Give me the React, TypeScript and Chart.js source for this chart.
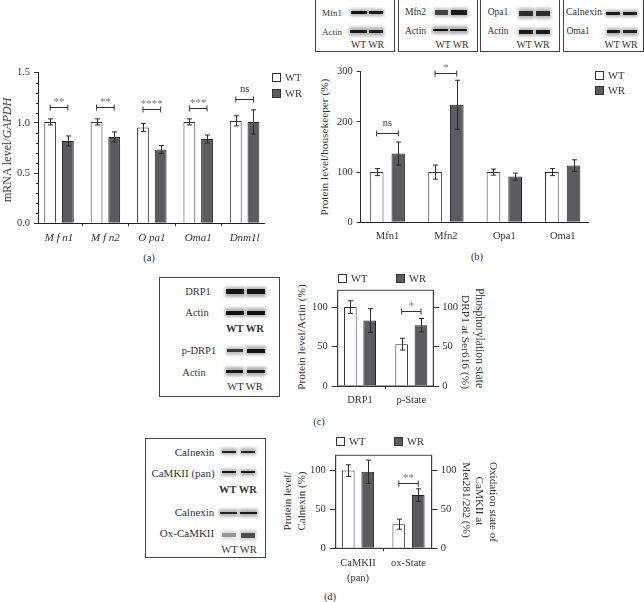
import React, { useEffect, useRef } from "react";
import { Chart, registerables } from "chart.js";

Chart.register(...registerables);

const FONT = '"Liberation Serif", serif';
const INK = "#333";
const BAR_DARK = "#5b5b60";

// ---- panel (a)
const aCategories = ["M f n1", "M f n2", "O pa1", "Oma1", "Dnm1l"];
const aWT = [1.01, 1.01, 0.955, 1.01, 1.02];
const aWR = [0.82, 0.86, 0.735, 0.84, 1.01];
const aWTerr = [0.03, 0.03, 0.04, 0.03, 0.05];
const aWRerr = [0.05, 0.05, 0.04, 0.04, 0.12];
const aBracketGroups = [0, 1, 2, 3, 4];
const aBracketValues = [1.158, 1.158, 1.138, 1.145, 1.24];
const aBracketLabels = ["**", "**", "****", "***", "ns"];
const aYMinor = [0.1, 0.2, 0.3, 0.4, 0.6, 0.7, 0.8, 0.9, 1.1, 1.2, 1.3, 1.4];

// ---- panel (b)
const bCategories = ["Mfn1", "Mfn2", "Opa1", "Oma1"];
const bWT = [100, 100, 100, 100];
const bWR = [137, 234, 91, 113];
const bWTerr = [7, 14, 6, 7];
const bWRerr = [23, 49, 7, 11.5];
const bBracketGroups = [0, 1];
const bBracketValues = [178.5, 296.5];
const bBracketLabels = ["ns", "*"];

// ---- panel (c)
const cCategories = ["DRP1", "p-State"];
const cWT = [100, 53];
const cWR = [83, 77];
const cWTerr = [8, 7.5];
const cWRerr = [15, 8.5];
const cBracketGroups = [1];
const cBracketValues = [95.4];
const cBracketLabels = ["*"];

// ---- panel (d)
const dCategories = [["CaMKII", "(pan)"], ["ox-State"]];
const dWT = [100, 31];
const dWR = [98.5, 68.5];
const dWTerr = [7.5, 6.5];
const dWRerr = [15, 8];
const dBracketGroups = [1];
const dBracketValues = [84];
const dBracketLabels = ["**"];

const annotPlugin = {
  id: "annot",
  afterDatasetsDraw(chart: any) {
    const o = chart.options.plugins.annot;
    if (!o) return;
    const { ctx, chartArea } = chart;
    const x0 = chart.getDatasetMeta(0).data;
    const x1 = chart.getDatasetMeta(1).data;
    const y = chart.scales.y;
    ctx.save();
    ctx.lineCap = "butt";
    ctx.strokeStyle = "#2a2a2a";
    ctx.lineWidth = 1;
    if (o.frame) {
      ctx.strokeStyle = "#444";
      ctx.strokeRect(chartArea.left, chartArea.top, chartArea.right - chartArea.left, chartArea.bottom - chartArea.top);
      ctx.strokeStyle = "#2a2a2a";
    }
    if (o.minor) {
      ctx.beginPath();
      o.minor.forEach((v: number) => {
        const py = Math.round(y.getPixelForValue(v)) + 0.5;
        ctx.moveTo(chartArea.left - 2, py);
        ctx.lineTo(chartArea.left, py);
      });
      ctx.stroke();
    }
    const drawErr = (els: any[], vals: number[], errs: number[]) => {
      els.forEach((el: any, i: number) => {
        const px = Math.round(el.x) + 0.5;
        const t = y.getPixelForValue(vals[i] + errs[i]);
        const b = y.getPixelForValue(vals[i] - errs[i]);
        ctx.beginPath();
        ctx.moveTo(px, t);
        ctx.lineTo(px, b);
        ctx.moveTo(px - o.cap, t);
        ctx.lineTo(px + o.cap, t);
        ctx.moveTo(px - o.cap, b);
        ctx.lineTo(px + o.cap, b);
        ctx.stroke();
      });
    };
    drawErr(x0, o.wt, o.wtErr);
    drawErr(x1, o.wr, o.wrErr);
    o.groups.forEach((g: number, i: number) => {
      const l = x0[g].x;
      const r = x1[g].x;
      const py = Math.round(y.getPixelForValue(o.bracket[i])) + 0.5;
      ctx.strokeStyle = "#333";
      ctx.beginPath();
      ctx.moveTo(l, py);
      ctx.lineTo(r, py);
      ctx.moveTo(l, py - 3);
      ctx.lineTo(l, py + 3);
      ctx.moveTo(r, py - 3);
      ctx.lineTo(r, py + 3);
      ctx.stroke();
      const label = o.labels[i];
      const isNs = label === "ns";
      ctx.fillStyle = isNs ? "#333" : "#777";
      ctx.font = `${isNs ? 10.5 : 11}px ${FONT}`;
      ctx.textAlign = "center";
      ctx.textBaseline = "alphabetic";
      ctx.fillText(label, (l + r) / 2, py - (isNs ? 8 : 3));
    });
    ctx.restore();
  },
};

interface PanelSpec {
  cats: any[];
  wt: number[];
  wr: number[];
  wtErr: number[];
  wrErr: number[];
  groups: number[];
  bracket: number[];
  labels: string[];
  box: number[]; // canvas left, top, width, height
  plot: number[]; // plot left, top, right, bottom
  xRange: number[];
  yMax: number;
  yStep: number;
  yDecimals: number;
  catPct: number;
  barPct: number;
  cap: number;
  xTickLen: number;
  xPad: number;
  xFontSize: number;
  xLineHeight?: number;
  yFontSize: number;
  xItalic?: boolean;
  rightAxis?: boolean;
  frame?: boolean;
  minor?: number[];
}

function buildChart(canvas: HTMLCanvasElement, s: PanelSpec) {
  const [cl, ct, cw, ch] = s.box;
  const [pl, pt, pr, pb] = s.plot;
  const font = { family: FONT, size: s.yFontSize };
  const scales: any = {
    x: {
      type: "linear",
      min: s.xRange[0],
      max: s.xRange[1],
      offset: false,
      grid: {
        drawOnChartArea: false,
        drawTicks: s.xTickLen > 0,
        tickLength: s.xTickLen,
        color: INK,
      },
      border: { display: true, color: "#222" },
      afterFit: (a: any) => {
        a.height = ct + ch - pb;
      },
      ticks: {
        stepSize: 1,
        includeBounds: false,
        autoSkip: false,
        maxRotation: 0,
        minRotation: 0,
        padding: s.xPad,
        color: INK,
        font: {
          family: FONT,
          size: s.xFontSize,
          lineHeight: s.xLineHeight ?? 1.2,
          style: s.xItalic ? "italic" : "normal",
        },
        callback: (v: any) => (Number.isInteger(v) ? s.cats[v] : ""),
      },
    },
    y: {
      type: "linear",
      min: 0,
      max: s.yMax,
      grid: { drawOnChartArea: false, tickLength: 4, color: INK },
      border: { display: true, color: "#222" },
      afterFit: (a: any) => {
        a.width = pl - cl;
      },
      ticks: {
        stepSize: s.yStep,
        includeBounds: false,
        autoSkip: false,
        padding: 4,
        color: INK,
        font,
        callback: (v: any) => Number(v).toFixed(s.yDecimals),
      },
    },
  };
  if (s.rightAxis) {
    scales.y1 = {
      type: "linear",
      position: "right",
      min: 0,
      max: s.yMax,
      grid: { drawOnChartArea: false, tickLength: 6, color: INK },
      border: { display: true, color: "#222" },
      afterFit: (a: any) => {
        a.width = cl + cw - pr;
      },
      ticks: { stepSize: s.yStep, includeBounds: false, padding: 3, color: INK, font },
    };
    scales.y.grid.tickLength = 6;
  }
  const dataset = (label: string, vals: number[], bg: string, bc: string) => ({
    label,
    data: vals.map((v, i) => ({ x: i, y: v })),
    backgroundColor: bg,
    borderColor: bc,
    borderWidth: 1,
    borderSkipped: "bottom",
    categoryPercentage: s.catPct,
    barPercentage: s.barPct,
  });
  return new Chart(canvas, {
    type: "bar",
    data: {
      datasets: [dataset("WT", s.wt, "#ffffff", "#333"), dataset("WR", s.wr, BAR_DARK, "#222")],
    },
    options: {
      animation: false,
      responsive: false,
      devicePixelRatio: 1,
      layout: { padding: { left: 0, top: pt - ct, right: s.rightAxis ? 0 : cl + cw - pr, bottom: 0 } },
      scales,
      plugins: {
        legend: { display: false },
        tooltip: { enabled: false },
        annot: {
          wt: s.wt,
          wr: s.wr,
          wtErr: s.wtErr,
          wrErr: s.wrErr,
          groups: s.groups,
          bracket: s.bracket,
          labels: s.labels,
          cap: s.cap,
          frame: s.frame,
          minor: s.minor,
        },
      },
    } as any,
    plugins: [annotPlugin as any],
  });
}

const panels: PanelSpec[] = [
  {
    cats: aCategories, wt: aWT, wr: aWR, wtErr: aWTerr, wrErr: aWRerr,
    groups: aBracketGroups, bracket: aBracketValues, labels: aBracketLabels,
    box: [12, 60, 258, 190], plot: [38, 72.7, 264, 223.3],
    xRange: [-0.4526, 4.418], yMax: 1.5, yStep: 0.5, yDecimals: 1,
    catPct: 0.762, barPct: 0.668, cap: 2.5, xTickLen: 3, xPad: 5, xItalic: true,
    xFontSize: 11, yFontSize: 10.5, minor: aYMinor,
  },
  {
    cats: bCategories, wt: bWT, wr: bWR, wtErr: bWTerr, wrErr: bWRerr,
    groups: bBracketGroups, bracket: bBracketValues, labels: bBracketLabels,
    box: [332, 55, 262, 190], plot: [360.7, 71.7, 588, 222.3],
    xRange: [-0.459, 3.433], yMax: 300, yStep: 100, yDecimals: 0,
    catPct: 0.743, barPct: 0.63, cap: 2.5, xTickLen: 0, xPad: 8,
    xFontSize: 10.5, yFontSize: 10.5,
  },
  {
    cats: cCategories, wt: cWT, wr: cWR, wtErr: cWTerr, wrErr: cWRerr,
    groups: cBracketGroups, bracket: cBracketValues, labels: cBracketLabels,
    box: [310, 280, 154, 130], plot: [337.7, 289, 433.3, 386],
    xRange: [-0.435, 1.429], yMax: 121.25, yStep: 50, yDecimals: 0,
    catPct: 0.754, barPct: 0.655, cap: 2.5, xTickLen: 3, xPad: 5,
    xFontSize: 10.5, yFontSize: 10.5, rightAxis: true, frame: true,
  },
  {
    cats: dCategories, wt: dWT, wr: dWR, wtErr: dWTerr, wrErr: dWRerr,
    groups: dBracketGroups, bracket: dBracketValues, labels: dBracketLabels,
    box: [308, 445, 156, 145], plot: [335.7, 453.3, 431.7, 548.3],
    xRange: [-0.4416, 1.459], yMax: 119.7, yStep: 50, yDecimals: 0,
    catPct: 0.772, barPct: 0.65, cap: 2.5, xTickLen: 3, xPad: 5,
    xFontSize: 10.5, xLineHeight: 1.4, yFontSize: 10.5, rightAxis: true, frame: true,
  },
];

// ---- text placed around the plots: text, centre x, centre y, size, weight
const plainLabels: [string, number, number, number, string][] = [
  ["(a)", 149, 258, 10.5, "normal"],
  ["(b)", 477, 257, 10.5, "normal"],
  ["(c)", 319, 422, 10.5, "normal"],
  ["(d)", 330, 597, 10.5, "normal"],
  ["Mfn1", 332, 13, 9, "normal"],
  ["Actin", 332, 32, 9, "normal"],
  ["WT WR", 367.5, 45, 9.8, "normal"],
  ["Mfn2", 415.5, 13, 9.5, "normal"],
  ["Actin", 415.5, 32, 9.5, "normal"],
  ["WT WR", 452, 45, 9.8, "normal"],
  ["Opa1", 498, 13, 9.5, "normal"],
  ["Actin", 498, 32, 9.5, "normal"],
  ["WT WR", 533, 45, 9.8, "normal"],
  ["Calnexin", 584, 12, 10, "normal"],
  ["Oma1", 578, 32, 9.5, "normal"],
  ["WT WR", 621, 45, 9.8, "normal"],
  ["DRP1", 198, 292, 10.5, "normal"],
  ["Actin", 197, 313, 10.5, "normal"],
  ["WT WR", 245, 329, 10.5, "bold"],
  ["p-DRP1", 199, 351, 10.5, "normal"],
  ["Actin", 194, 373, 10.5, "normal"],
  ["WT WR", 245, 387, 10.5, "normal"],
  ["Calnexin", 194.5, 452, 11, "normal"],
  ["CaMKII (pan)", 183, 473, 11, "normal"],
  ["WT WR", 238, 490, 10.5, "bold"],
  ["Calnexin", 194.5, 512, 11, "normal"],
  ["Ox-CaMKII", 187, 533, 11, "normal"],
  ["WT WR", 239, 550, 10.5, "normal"],
];

// ---- rotated titles: text, centre x, centre y, angle, size
const rotatedLabels: [React.ReactNode, number, number, number, number][] = [
  [<>mRNA level/<i>GAPDH</i></>, 7, 149.5, -90, 12],
  ["Protein level/housekeeper (%)", 325, 146.7, -90, 11.3],
  ["Protein level/Actin (%)", 302, 337, -90, 11.3],
  ["Phosphorylation state", 479, 338, 90, 11.6],
  ["DRP1 at Ser616 (%)", 465, 342, 90, 11.4],
  ["Protein level/", 287, 500.7, -90, 11],
  ["Calnexin (%)", 300.7, 500.7, -90, 11],
  ["Oxidation state of", 493, 501.7, 90, 11.2],
  ["CaMKII at", 479, 501, 90, 11.2],
  ["Met281/282 (%)", 466, 500, 90, 11.4],
];

// ---- legend positions: swatch x, swatch y, label, dark
const legendItems: [number, number, string, boolean][] = [
  [272, 73, "WT", false],
  [272, 89, "WR", true],
  [595, 71, "WT", false],
  [595, 86, "WR", true],
  [338, 274, "WT", false],
  [396, 274, "WR", true],
  [336, 437, "WT", false],
  [394, 437, "WR", true],
];

// ---- photographed blot frames: left, top, right, bottom
const frames: number[][] = [
  [315, -1, 395, 52],
  [398, -1, 478, 52],
  [480, -1, 560, 52],
  [563, -1, 644, 52],
  [159, 277, 280, 397],
  [145, 438, 266, 558],
];

// ---- blot bands: x1, x2, centre y, thickness, darkness
const bands: number[][] = [
  [351, 367, 12.7, 2.5, 0.95], [369, 383, 12.7, 2.5, 0.9],
  [350, 367, 31.7, 3.5, 0.9], [369, 383, 31.7, 3.5, 0.9],
  [435, 448, 12.5, 4.5, 0.7], [451, 467, 12.5, 4.5, 0.9],
  [433, 448, 30, 2.5, 0.95], [450, 467, 30, 2.5, 0.95],
  [519, 533, 13.3, 5.5, 0.8], [536, 550, 13.3, 5.5, 0.8],
  [519, 533, 32, 3.5, 0.9], [536, 550, 32, 3.5, 0.9],
  [606, 620, 13.5, 2.5, 0.9], [623, 637, 13.5, 2.5, 0.9],
  [607, 620, 31.7, 3, 0.9], [623, 637, 31.7, 3, 0.85],
  [226, 244, 291.7, 5, 0.95], [247, 265, 291.7, 5, 0.95],
  [226, 244, 312.7, 4, 0.95], [247, 265, 312.7, 4, 0.95],
  [227, 243, 350.7, 3, 0.75], [247, 265, 350.7, 4, 0.95],
  [226, 243, 371.7, 3.5, 0.95], [247, 265, 371.7, 3.5, 0.95],
  [222, 236, 451.7, 2.2, 0.85], [241, 255, 451.7, 2.2, 0.85],
  [222, 236, 472.3, 2.2, 0.9], [241, 255, 472.3, 2.2, 0.9],
  [220, 237, 513, 2.5, 0.85], [240, 257, 513, 2.5, 0.9],
  [222, 236, 535, 4.5, 0.35], [241, 255, 535, 5, 0.65],
];

function Label({ text, x, y, size, weight }: any) {
  return (
    <div
      style={{
        position: "absolute",
        left: x,
        top: y,
        transform: "translate(-50%,-50%)",
        whiteSpace: "nowrap",
        fontFamily: FONT,
        fontSize: size,
        fontWeight: weight,
        color: INK,
        lineHeight: 1,
      }}
    >
      {text}
    </div>
  );
}

export default function App() {
  const refs = useRef<(HTMLCanvasElement | null)[]>([]);
  useEffect(() => {
    const charts = panels.map((p, i) => buildChart(refs.current[i]!, p));
    return () => charts.forEach((c) => c.destroy());
  }, []);
  return (
    <div
      style={{
        position: "absolute",
        left: 0,
        top: 0,
        width: 644,
        height: 602,
        overflow: "hidden",
        background: "#fff",
        filter: "blur(0.35px)",
      }}
    >
      {frames.map(([l, t, r, b], i) => (
        <div
          key={"f" + i}
          style={{
            position: "absolute",
            left: l,
            top: t,
            width: r - l,
            height: b - t,
            boxSizing: "border-box",
            border: "1px solid #444",
          }}
        />
      ))}
      {bands.map(([x1, x2, y, h, d], i) => (
        <React.Fragment key={"b" + i}>
          <div
            style={{
              position: "absolute",
              left: x1 - 1,
              top: y - h / 2 - 2.5,
              width: x2 - x1 + 2,
              height: h + 5,
              background: `rgba(90,90,90,${d * 0.5})`,
              filter: "blur(1.4px)",
            }}
          />
          <div
            style={{
              position: "absolute",
              left: x1,
              top: y - h / 2,
              width: x2 - x1,
              height: h,
              background: `rgba(10,10,10,${d})`,
              filter: "blur(0.7px)",
            }}
          />
        </React.Fragment>
      ))}
      {panels.map((p, i) => (
        <canvas
          key={"c" + i}
          ref={(el) => {
            refs.current[i] = el;
          }}
          width={p.box[2]}
          height={p.box[3]}
          style={{
            position: "absolute",
            left: p.box[0],
            top: p.box[1],
            width: p.box[2],
            height: p.box[3],
          }}
        />
      ))}
      {plainLabels.map(([t, x, y, s, w], i) => (
        <Label key={"l" + i} text={t} x={x} y={y} size={s} weight={w} />
      ))}
      {rotatedLabels.map(([t, x, y, a, s], i) => (
        <div
          key={"r" + i}
          style={{
            position: "absolute",
            left: x,
            top: y,
            transform: `translate(-50%,-50%) rotate(${a}deg)`,
            whiteSpace: "nowrap",
            fontFamily: FONT,
            fontSize: s,
            color: INK,
            lineHeight: 1,
          }}
        >
          {t}
        </div>
      ))}
      {legendItems.map(([x, y, t, dark], i) => (
        <React.Fragment key={"k" + i}>
          <div
            style={{
              position: "absolute",
              left: x,
              top: y,
              width: 9,
              height: 9,
              boxSizing: "border-box",
              border: "1px solid #333",
              background: dark ? BAR_DARK : "#fff",
            }}
          />
          <div
            style={{
              position: "absolute",
              left: x + 13,
              top: y - 0.5,
              fontFamily: FONT,
              fontSize: 10.5,
              color: INK,
              lineHeight: "10px",
            }}
          >
            {t}
          </div>
        </React.Fragment>
      ))}
    </div>
  );
}
